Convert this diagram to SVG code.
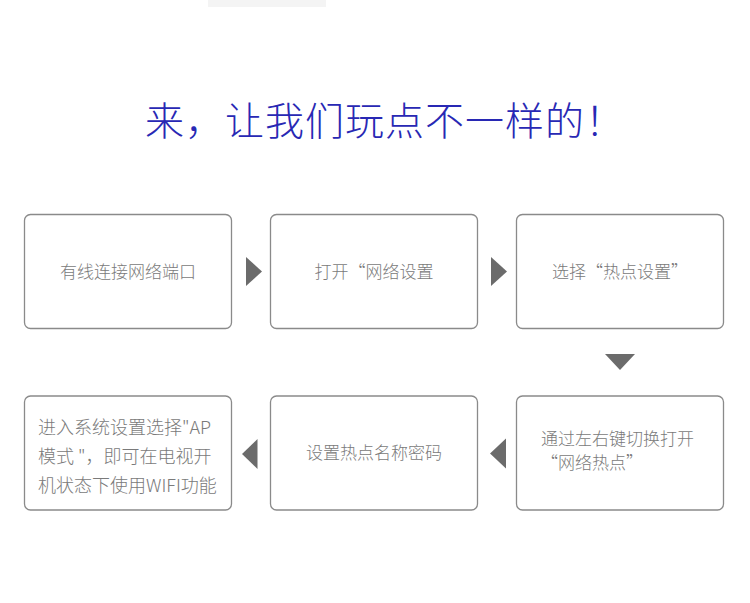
<svg xmlns="http://www.w3.org/2000/svg" width="750" height="603" viewBox="0 0 750 603">
  <style>
    .box { fill: #ffffff; stroke: #8a8a8a; stroke-width: 1.3; }
    .lbl { font-family: "Noto Sans CJK SC", "Liberation Sans", sans-serif; font-size: 17px; fill: #7a7a7a; font-weight: 300; }
    .mid { text-anchor: middle; }
    .arr { fill: #6b6b6b; }
    .title { font-family: "Noto Sans CJK SC", "Liberation Sans", sans-serif; font-size: 39px; fill: #2828b4; font-weight: 300; letter-spacing: 1px; }
  </style>
  <rect width="750" height="603" fill="#ffffff"/>
  <rect x="208" y="0" width="118" height="7" fill="#f4f4f4"/>
  <text id="title" class="title" x="145" y="135">来，让我们玩点不一样的！</text>

  <g id="n1">
    <rect class="box" x="24.5" y="214.5" width="207" height="114" rx="6"/>
    <text class="lbl mid" x="128" y="277.5">有线连接网络端口</text>
  </g>
  <g id="n2">
    <rect class="box" x="270.5" y="214.5" width="207" height="114" rx="6"/>
    <text class="lbl mid" x="374" y="277.5">打开“网络设置</text>
  </g>
  <g id="n3">
    <rect class="box" x="516.5" y="214.5" width="207" height="114" rx="6"/>
    <text class="lbl mid" x="620" y="277.5">选择“热点设置”</text>
  </g>
  <g id="n4">
    <rect class="box" x="516.5" y="396" width="207" height="114" rx="6"/>
    <text class="lbl" x="541" y="445">通过左右键切换打开</text>
    <text class="lbl" x="541" y="469">“网络热点”</text>
  </g>
  <g id="n5">
    <rect class="box" x="270.5" y="396" width="207" height="114" rx="6"/>
    <text class="lbl mid" x="374" y="458.5">设置热点名称密码</text>
  </g>
  <g id="n6">
    <rect class="box" x="24.5" y="396" width="207" height="114" rx="6"/>
    <text class="lbl" x="38" y="434" style="font-size:18px">进入系统设置选择"AP</text>
    <text class="lbl" x="38" y="463" style="font-size:18px">模式 "，即可在电视开</text>
    <text class="lbl" x="38" y="492" style="font-size:18px">机状态下使用WIFI功能</text>
  </g>

  <g id="connectors">
    <polygon class="arr" points="246,257 262,271.5 246,286"/>
    <polygon class="arr" points="491,257 507,271.5 491,286"/>
    <polygon class="arr" points="605,354 635,354 620,370"/>
    <polygon class="arr" points="506,438.5 490,453.5 506,468.5"/>
    <polygon class="arr" points="257.5,439 242,454 257.5,469"/>
  </g>
</svg>
